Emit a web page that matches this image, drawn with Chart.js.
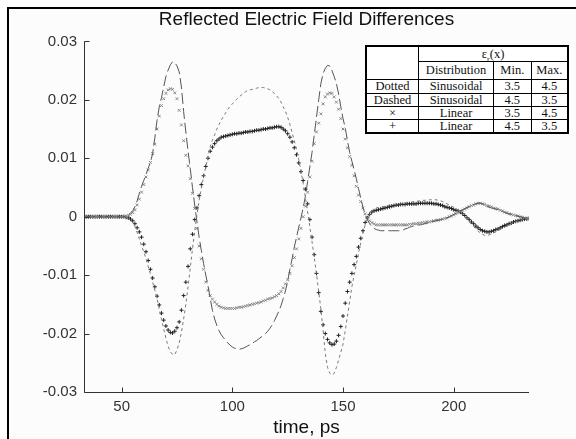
<!DOCTYPE html>
<html>
<head>
<meta charset="utf-8">
<script src="https://cdn.jsdelivr.net/npm/chart.js@4.4.1/dist/chart.umd.min.js"></script>
<style>
    body {margin: 0; background: #fff;}
    #wrap {position: relative; width: 576px; height: 439px; overflow: hidden;}
    #frame {position: absolute; left: 7px; top: 7px; width: 575px; height: 440px;
        border-left: 2px solid #000; border-top: 2px solid #000; background: #fcfcfc;}
    #chart {position: absolute; left: 0; top: 0;}
    #legendTable {position: absolute; left: 365px; top: 45px; width: 204px; border-collapse: collapse;
        border: 2px solid #000; background: #fff; font-family: "Liberation Serif", serif; font-size: 12.5px; color: #111;}
    #legendTable td {border: 1px solid #000; text-align: center; padding: 0; line-height: 12px;}
    #legendTable sub {font-size: 8px; line-height: 0;}
</style>
</head>
<body>
<div id="wrap">
    <div id="frame"></div>
    <canvas id="chart" width="576" height="439"></canvas>
    <table id="legendTable"></table>
</div>
<script>
// time axis, ps (one sample per ps)
const timeStart = 33;
const timeEnd = 234;
const xTicks = [50, 100, 150, 200];
const yTicks = [-0.03, -0.02, -0.01, 0, 0.01, 0.02, 0.03];
const yTickLabels = ["-0.03", "-0.02", "-0.01", "0", "0.01", "0.02", "0.03"];

// field differences, in units of 1e-4, t = 33..234 ps
const dottedSin = [
    0, 0, 0, 0, 0, 0, 0,
    0, 0, 0, 0, 0, 0, 0, 0, 0, 0,
    0, 0, -1, -3, -6, -10, -17, -27, -38, -50,
    -60, -72, -85, -98, -112, -126, -140, -158, -176, -192,
    -208, -222, -231, -236, -236, -228, -216, -198, -175, -150,
    -120, -88, -55, -25, 2, 28, 48, 68, 85, 102,
    120, 131, 140, 150, 158, 165, 172, 178, 184, 189,
    193, 197, 201, 205, 208, 211, 214, 216, 217, 218,
    219, 220, 221, 221, 221, 220, 219, 217, 214, 211,
    207, 202, 196, 188, 180, 170, 158, 144, 130, 115,
    98, 78, 57, 33, 8, -17, -43, -70, -97, -128,
    -158, -195, -235, -258, -268, -271, -268, -258, -245, -232,
    -218, -195, -170, -145, -120, -100, -82, -62, -45, -28,
    -14, -3, 5, 10, 13, 15, 16, 17, 17, 18,
    19, 20, 20, 21, 21, 22, 22, 23, 24, 24,
    25, 25, 26, 26, 27, 27, 28, 28, 29, 29,
    29, 29, 29, 28, 27, 26, 24, 22, 20, 18,
    16, 14, 11, 8, 4, 0, -4, -8, -13, -17,
    -21, -25, -28, -30, -32, -32, -31, -30, -28, -26,
    -24, -22, -20, -18, -16, -14, -12, -10, -9, -7,
    -6, -5, -4, -4, -3
];
const dashedSin = [
    0, 0, 0, 0, 0, 0, 0,
    0, 0, 0, 0, 0, 0, 0, 0, 0, 0,
    0, 0, 1, 3, 6, 10, 17, 27, 40, 52,
    62, 72, 83, 93, 108, 135, 165, 188, 204, 222,
    240, 251, 260, 265, 264, 258, 248, 222, 180, 145,
    112, 82, 50, 20, -8, -35, -58, -80, -100, -118,
    -140, -160, -175, -186, -195, -202, -207, -212, -216, -220,
    -223, -225, -226, -227, -226, -225, -223, -221, -219, -217,
    -214, -212, -209, -206, -203, -200, -196, -191, -185, -178,
    -170, -162, -152, -140, -127, -110, -90, -72, -52, -35,
    -18, -2, 15, 35, 60, 85, 110, 140, 170, 200,
    228, 245, 254, 259, 258, 250, 240, 228, 210, 188,
    168, 152, 130, 110, 95, 80, 65, 48, 32, 16,
    4, -5, -12, -17, -20, -22, -23, -24, -24, -24,
    -24, -24, -24, -24, -24, -24, -24, -23, -21, -20,
    -18, -17, -16, -15, -14, -14, -13, -12, -11, -10,
    -9, -8, -7, -6, -5, -4, -3, -2, 0, 2,
    4, 6, 8, 10, 12, 14, 16, 18, 19, 21,
    22, 23, 23, 22, 20, 18, 16, 15, 14, 13,
    12, 10, 9, 7, 6, 5, 4, 3, 2, 1,
    0, -1, -2, -3, -3
];
const crossLinear = [
    0, 0, 0, 0, 0, 0, 0,
    0, 0, 0, 0, 0, 0, 0, 0, 0, 0,
    0, 0, 1, 2, 4, 7, 12, 20, 30, 42,
    55, 68, 80, 93, 108, 124, 150, 172, 190, 202,
    211, 217, 219, 218, 212, 202, 182, 157, 130, 105,
    87, 65, 40, 14, -20, -50, -72, -90, -112, -126,
    -135, -141, -146, -150, -153, -155, -156, -157, -157, -157,
    -157, -157, -156, -155, -155, -154, -153, -152, -151, -150,
    -149, -148, -147, -146, -144, -143, -141, -140, -139, -137,
    -135, -132, -128, -122, -115, -108, -97, -84, -70, -55,
    -38, -20, 0, 18, 42, 68, 95, 125, 145, 160,
    176, 193, 205, 210, 212, 211, 205, 196, 184, 168,
    150, 133, 118, 103, 88, 70, 52, 37, 26, 15,
    5, -2, -7, -10, -12, -14, -14, -14, -14, -14,
    -14, -14, -14, -14, -14, -14, -14, -14, -14, -14,
    -13, -13, -12, -12, -11, -11, -10, -10, -9, -9,
    -8, -7, -6, -6, -5, -4, -3, -2, 0, 1,
    3, 5, 7, 9, 11, 13, 15, 17, 19, 20,
    22, 23, 23, 22, 21, 19, 18, 17, 15, 14,
    13, 11, 10, 8, 7, 5, 4, 3, 2, 1,
    0, -1, -2, -3, -3
];
const plusLinear = [
    0, 0, 0, 0, 0, 0, 0,
    0, 0, 0, 0, 0, 0, 0, 0, 0, 0,
    0, 0, -1, -2, -4, -7, -12, -19, -26, -35,
    -47, -60, -75, -90, -105, -120, -136, -151, -165, -177,
    -187, -194, -198, -199, -196, -190, -180, -160, -135, -112,
    -85, -55, -30, -5, 15, 36, 55, 70, 86, 100,
    112, 119, 125, 130, 133, 136, 137, 138, 139, 140,
    141, 142, 142, 143, 143, 144, 145, 145, 146, 146,
    147, 148, 148, 149, 150, 150, 151, 152, 152, 153,
    154, 154, 153, 150, 147, 142, 136, 128, 118, 106,
    92, 77, 62, 47, 22, -5, -35, -65, -97, -130,
    -162, -185, -200, -210, -216, -219, -218, -213, -203, -188,
    -170, -148, -128, -112, -97, -82, -68, -52, -37, -24,
    -10, -2, 4, 8, 10, 11, 12, 13, 14, 15,
    16, 17, 18, 19, 20, 20, 21, 21, 21, 22,
    22, 22, 22, 22, 23, 23, 23, 23, 23, 23,
    23, 22, 22, 21, 20, 19, 17, 16, 15, 14,
    12, 11, 10, 8, 5, 2, -2, -5, -9, -12,
    -16, -19, -22, -24, -25, -26, -26, -25, -24, -22,
    -21, -19, -17, -15, -14, -12, -11, -9, -8, -7,
    -6, -5, -4, -4, -3
];

const legendHeader = ["Distribution", "Min.", "Max."];
const legendRows = [
    ["Dotted", "Sinusoidal", "3.5", "4.5"],
    ["Dashed", "Sinusoidal", "4.5", "3.5"],
    ["\u00d7", "Linear", "3.5", "4.5"],
    ["+", "Linear", "4.5", "3.5"],
];

const fontSans = "'Liberation Sans', Arial, sans-serif";

function toPoints(values) {
    return values.map((v, i) => ({x: timeStart + i, y: v * 1e-4}));
}

// legend table
const table = document.getElementById("legendTable");
let html = '<colgroup><col style="width:53px"><col style="width:75px"><col style="width:38px"><col style="width:37px"></colgroup>';
html += '<tr style="height:15px"><td rowspan="2"></td><td colspan="3">\u03b5<sub>r</sub>(x)</td></tr>';
html += '<tr style="height:18px">' + legendHeader.map(h => `<td>${h}</td>`).join("") + '</tr>';
legendRows.forEach((row, i) => {
    html += `<tr style="height:${i === 0 || i === 3 ? 14 : 13}px">` + row.map(c => `<td>${c}</td>`).join("") + '</tr>';
});
table.innerHTML = html;

// axis lines with inward tick marks
const axesPlugin = {
    id: "axesPlugin",
    afterDatasetsDraw(chart) {
        const {ctx, chartArea, scales} = chart;
        ctx.save();
        ctx.strokeStyle = "#333";
        ctx.lineWidth = 1;
        ctx.beginPath();
        const left = Math.round(chartArea.left) + 0.5;
        const bottom = Math.round(chartArea.bottom) + 0.5;
        ctx.moveTo(left, chartArea.top);
        ctx.lineTo(left, bottom);
        ctx.lineTo(chartArea.right, bottom);
        yTicks.forEach(v => {
            const y = Math.round(scales.y.getPixelForValue(v)) + 0.5;
            ctx.moveTo(left, y);
            ctx.lineTo(left + 5, y);
        });
        xTicks.forEach(v => {
            const x = Math.round(scales.x.getPixelForValue(v)) + 0.5;
            ctx.moveTo(x, bottom);
            ctx.lineTo(x, bottom - 5);
        });
        ctx.stroke();
        ctx.restore();
    }
};

new Chart(document.getElementById("chart"), {
    type: "scatter",
    data: {
        datasets: [
            {
                label: "Dotted",
                data: toPoints(dottedSin),
                showLine: true,
                borderColor: "#7a7a7a",
                borderWidth: 1,
                borderDash: [3, 3],
                pointRadius: 0,
            },
            {
                label: "Dashed",
                data: toPoints(dashedSin),
                showLine: true,
                borderColor: "#555",
                borderWidth: 1,
                borderDash: [11, 4],
                pointRadius: 0,
            },
            {
                label: "\u00d7",
                data: toPoints(crossLinear),
                showLine: false,
                pointStyle: "crossRot",
                pointRadius: 2,
                borderColor: "#888",
                pointBorderWidth: 1,
            },
            {
                label: "+",
                data: toPoints(plusLinear),
                showLine: false,
                pointStyle: "cross",
                pointRadius: 2,
                borderColor: "#222",
                pointBorderWidth: 1,
            },
        ]
    },
    options: {
        responsive: false,
        animation: false,
        layout: {padding: {top: 0, right: 47, bottom: 0, left: 0}},
        plugins: {
            legend: {display: false},
            tooltip: {enabled: false},
            title: {
                display: true,
                fullSize: false,
                text: "Reflected Electric Field Differences",
                color: "#111",
                font: {family: fontSans, size: 19, weight: "normal"},
                padding: {top: 8, bottom: 10.6},
            },
        },
        scales: {
            x: {
                type: "linear",
                min: timeStart,
                max: timeEnd,
                grid: {display: false, drawTicks: false},
                border: {display: false},
                afterBuildTicks: s => { s.ticks = xTicks.map(v => ({value: v})); },
                afterFit: s => { s.height = 47; },
                ticks: {color: "#333", font: {family: fontSans, size: 15}, padding: 6, maxRotation: 0},
                title: {
                    display: true,
                    text: "time, ps",
                    color: "#111",
                    font: {family: fontSans, size: 19},
                    padding: {top: 0, bottom: 0},
                },
            },
            y: {
                min: -0.03,
                max: 0.03,
                grid: {display: false, drawTicks: false},
                border: {display: false},
                afterBuildTicks: s => { s.ticks = yTicks.map(v => ({value: v})); },
                afterFit: s => { s.width = 84; },
                ticks: {
                    color: "#333",
                    font: {family: fontSans, size: 15},
                    padding: 7,
                    callback: v => yTickLabels[yTicks.findIndex(t => Math.abs(t - v) < 1e-9)],
                },
            },
        },
    },
    plugins: [axesPlugin],
});
</script>
</body>
</html>
